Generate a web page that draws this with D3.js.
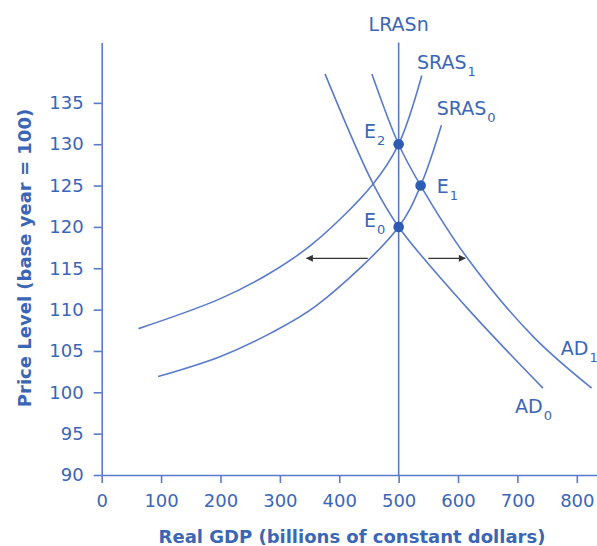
<!DOCTYPE html>
<html>
<head>
<meta charset="utf-8">
<script src="https://cdn.jsdelivr.net/npm/d3@7"></script>
<style>
  html, body { margin: 0; padding: 0; background: #fff; }
  svg { display: block; font-family: "DejaVu Sans", sans-serif; }
</style>
</head>
<body>
<div id="chart"></div>
<script>
const width = 597;
const height = 546;

const xTicks = [0, 100, 200, 300, 400, 500, 600, 700, 800];
const yTicks = [90, 95, 100, 105, 110, 115, 120, 125, 130, 135];

// curves (real GDP, price level)
const sras0 = [[95, 101.9], [199, 104.3], [283, 107.1], [362, 110.5], [500, 120], [537, 125], [572, 132.3]];
const sras1 = [[62, 107.7], [199, 111.3], [283, 114.4], [356, 118.0], [457, 125.2], [500, 130], [539, 138.3]];
const ad0 = [[376, 138.5], [457, 125.2], [500, 120], [614, 110.3], [743, 100.5]];
const ad1 = [[455, 138.5], [500, 130], [537, 125], [614, 116.4], [727, 106.7], [825, 100.5]];
const lrasX = 500;

const equilibria = [
    { name: "E", sub: "0", gdp: 500, price: 120 },
    { name: "E", sub: "1", gdp: 537, price: 125 },
    { name: "E", sub: "2", gdp: 500, price: 130 }
];

// shift arrows: SRAS moves left, AD moves right
const shiftArrows = [
    [[448, 116.2], [345, 116.2]],
    [[550, 116.2], [612, 116.2]]
];

const labels = [
    { text: "SRAS", sub: "1", gdp: 531, price: 139.1 },
    { text: "SRAS", sub: "0", gdp: 564, price: 133.5 },
    { text: "E", sub: "2", gdp: 441.6, price: 130.7 },
    { text: "E", sub: "1", gdp: 564, price: 124.1 },
    { text: "E", sub: "0", gdp: 441.6, price: 120.0 },
    { text: "AD", sub: "0", gdp: 696, price: 97.5 },
    { text: "AD", sub: "1", gdp: 773, price: 104.5 }
];

const textColor = "#3b66b6";
const lineColor = "#5a7bcc";
const dotColor = "#2d5cb2";

const x = d3.scaleLinear().domain([0, 834]).range([101.7, 597]);
const y = d3.scaleLinear().domain([90, 142.3]).range([475, 42.5]);

const svg = d3.select("#chart")
    .append("svg")
    .attr("width", width)
    .attr("height", height);

svg.append("defs")
    .append("marker")
    .attr("id", "arrow")
    .attr("viewBox", "0 0 10 10")
    .attr("refX", 9)
    .attr("refY", 5)
    .attr("markerWidth", 9)
    .attr("markerHeight", 7)
    .attr("markerUnits", "userSpaceOnUse")
    .attr("orient", "auto")
    .append("path")
    .attr("d", "M0,0 L10,5 L0,10 z")
    .attr("fill", "#333");

// axes
const xAxis = svg.append("g")
    .attr("transform", "translate(0," + y(90) + ")")
    .call(d3.axisBottom(x).tickValues(xTicks).tickSize(8).tickPadding(11).tickSizeOuter(0));

const yAxis = svg.append("g")
    .attr("transform", "translate(" + x(0) + ",0)")
    .call(d3.axisLeft(y).tickValues(yTicks).tickSize(8).tickPadding(10).tickSizeOuter(0));

[xAxis, yAxis].forEach(function (g) {
    g.select(".domain").attr("stroke", lineColor).attr("stroke-width", 1.6);
    g.selectAll(".tick line").attr("stroke", lineColor).attr("stroke-width", 1.6);
    g.selectAll(".tick text")
        .attr("fill", textColor)
        .style("font-size", "18px")
        .style("font-family", "'DejaVu Sans', sans-serif");
});

svg.append("text")
    .attr("x", 352)
    .attr("y", 543)
    .attr("text-anchor", "middle")
    .attr("fill", textColor)
    .style("font-size", "18px")
    .style("font-weight", "bold")
    .text("Real GDP (billions of constant dollars)");

svg.append("text")
    .attr("transform", "translate(31,258) rotate(-90)")
    .attr("text-anchor", "middle")
    .attr("fill", textColor)
    .style("font-size", "18px")
    .style("font-weight", "bold")
    .text("Price Level (base year = 100)");

// LRAS
svg.append("line")
    .attr("x1", x(lrasX))
    .attr("x2", x(lrasX))
    .attr("y1", y(90))
    .attr("y2", y(142.3))
    .attr("stroke", lineColor)
    .attr("stroke-width", 1.6);

svg.append("text")
    .attr("x", x(lrasX))
    .attr("y", y(143.7))
    .attr("text-anchor", "middle")
    .attr("fill", textColor)
    .style("font-size", "19px")
    .text("LRASn");

// curves
const line = d3.line()
    .x(d => x(d[0]))
    .y(d => y(d[1]))
    .curve(d3.curveCatmullRom.alpha(0.5));

[sras0, sras1, ad0, ad1].forEach(function (c) {
    svg.append("path")
        .datum(c)
        .attr("d", line)
        .attr("fill", "none")
        .attr("stroke", lineColor)
        .attr("stroke-width", 1.6);
});

// arrows
svg.selectAll(".shift")
    .data(shiftArrows)
    .join("line")
    .attr("class", "shift")
    .attr("x1", d => x(d[0][0]))
    .attr("y1", d => y(d[0][1]))
    .attr("x2", d => x(d[1][0]))
    .attr("y2", d => y(d[1][1]))
    .attr("stroke", "#333")
    .attr("stroke-width", 1.3)
    .attr("marker-end", "url(#arrow)");

// equilibrium points
svg.selectAll(".eq")
    .data(equilibria)
    .join("circle")
    .attr("class", "eq")
    .attr("cx", d => x(d.gdp))
    .attr("cy", d => y(d.price))
    .attr("r", 5.3)
    .attr("fill", dotColor);

// curve and point labels
const lab = svg.selectAll(".lab")
    .data(labels)
    .join("text")
    .attr("class", "lab")
    .attr("x", d => x(d.gdp))
    .attr("y", d => y(d.price))
    .attr("fill", textColor)
    .style("font-size", "19px");

lab.append("tspan").text(d => d.text);
lab.append("tspan")
    .attr("dx", 1)
    .attr("dy", 7)
    .style("font-size", "13px")
    .text(d => d.sub);
</script>
</body>
</html>
